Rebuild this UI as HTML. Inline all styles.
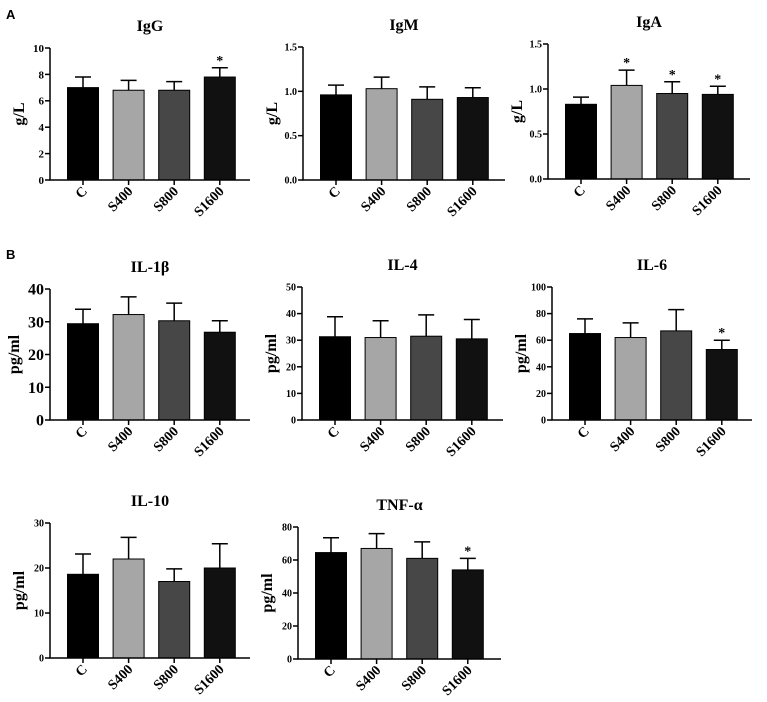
<!DOCTYPE html>
<html><head><meta charset="utf-8"><style>
body{margin:0;background:#fff}
svg{display:block}
text{font-family:"Liberation Serif",serif;font-weight:bold;fill:#000}
</style></head><body>
<svg id="c" width="767" height="702">
<text x="6" y="19" style="font-family:'Liberation Sans',sans-serif;font-size:13px">A</text>
<text x="6" y="259" style="font-family:'Liberation Sans',sans-serif;font-size:13px">B</text>
</svg>
<script>
const categories=["C","S400","S800","S1600"];
const colors=["#000","#a6a6a6","#474747","#111"];
const igG=[7.0,6.8,6.8,7.8], igGErr=[0.8,0.75,0.65,0.7], igGSig=[0,0,0,1];
const igM=[0.96,1.03,0.91,0.93], igMErr=[0.11,0.13,0.14,0.11], igMSig=[0,0,0,0];
const igA=[0.83,1.04,0.95,0.94], igAErr=[0.08,0.17,0.13,0.09], igASig=[0,1,1,1];
const il1b=[29.4,32.2,30.3,26.8], il1bErr=[4.4,5.4,5.4,3.5], il1bSig=[0,0,0,0];
const il4=[31.3,31,31.5,30.5], il4Err=[7.5,6.3,8,7.3], il4Sig=[0,0,0,0];
const il6=[65,62,67,53], il6Err=[11,11,16,7], il6Sig=[0,0,0,1];
const il10=[18.6,22,17,20], il10Err=[4.5,4.8,2.8,5.4], il10Sig=[0,0,0,0];
const tnf=[64.5,67,61,54], tnfErr=[9,9,10,7], tnfSig=[0,0,0,1];
const igGTicks=["0","2","4","6","8","10"];
const igMTicks=["0.0","0.5","1.0","1.5"];
const igATicks=["0.0","0.5","1.0","1.5"];
const il1bTicks=["0","10","20","30","40"];
const il4Ticks=["0","10","20","30","40","50"];
const il6Ticks=["0","20","40","60","80","100"];
const il10Ticks=["0","10","20","30"];
const tnfTicks=["0","20","40","60","80"];

const svg=document.getElementById('c');const NS="http://www.w3.org/2000/svg";
function mk(t,a,p){const e=document.createElementNS(NS,t);for(const k in a)e.setAttribute(k,a[k]);(p||svg).appendChild(e);return e;}
function panel(name,title,ylab,vals,errs,sig,ticks,ox,yTop,yBot,xEnd,fs){
  const g=mk('g',{});
  
  
  const max=parseFloat(ticks[ticks.length-1]);
  const y=v=>yBot-(v/max)*(yBot-yTop);
  const xc=i=>ox+33+45.6*i;
  const t=mk('text',{x:(ox+xEnd)/2,y:yTop-17,'text-anchor':'middle','font-size':16},g);t.textContent=title;
  
  
  const yl=mk('text',{x:0,y:0,'text-anchor':'middle','font-size':16,transform:`translate(${ox-(fs>11?31:26)},${(yTop+yBot)/2}) rotate(-90)`},g);yl.textContent=ylab;
  
  
  vals.forEach((v,i)=>{
    const b=mk('rect',{x:xc(i)-15.5,y:y(v),width:31,height:yBot-y(v),fill:colors[i],stroke:'#000','stroke-width':1},g);
    
    
    const te=y(v+errs[i]);
    const e=mk('path',{d:`M${xc(i)},${y(v)}V${te}M${xc(i)-8},${te}H${xc(i)+8}`,stroke:'#000','stroke-width':1.5,fill:'none'},g);
    
    
    if(sig[i]){const s=mk('text',{x:xc(i),y:te-3,'text-anchor':'middle','font-size':14},g);s.textContent='*';
      
      }
    mk('line',{x1:xc(i),x2:xc(i),y1:yBot,y2:yBot+5,stroke:'#000','stroke-width':1.5},g);
    const cl=mk('text',{x:0,y:0,'text-anchor':'end','font-size':14,transform:`translate(${xc(i)+5},${yBot+12}) rotate(-45)`},g);cl.textContent=categories[i];
    
    
  });
  ticks.forEach(tk=>{const yy=y(parseFloat(tk));
    mk('line',{x1:ox-5,x2:ox,y1:yy,y2:yy,stroke:'#000','stroke-width':1.5},g);
    const tl=mk('text',{x:ox-6,y:yy+fs*0.35,'text-anchor':'end','font-size':fs},g);tl.textContent=tk;
    
    });
  const ax=mk('path',{d:`M${ox},${yTop}V${yBot}H${xEnd}`,stroke:'#000','stroke-width':1.5,fill:'none'},g);
  
  
}
panel('igg','IgG','g/L',igG,igGErr,igGSig,igGTicks,50,48,180,250,11);
panel('igm','IgM','g/L',igM,igMErr,igMSig,igMTicks,303,47,180,505,10);
panel('iga','IgA','g/L',igA,igAErr,igASig,igATicks,548,44,179,750,10);
panel('il1b','IL-1β','pg/ml',il1b,il1bErr,il1bSig,il1bTicks,50,289,420,250,16);
panel('il4','IL-4','pg/ml',il4,il4Err,il4Sig,il4Ticks,302,287,420,503,10);
panel('il6','IL-6','pg/ml',il6,il6Err,il6Sig,il6Ticks,552,287,420,752,10);
panel('il10','IL-10','pg/ml',il10,il10Err,il10Sig,il10Ticks,50,523,658,250,10);
panel('tnf','TNF-α','pg/ml',tnf,tnfErr,tnfSig,tnfTicks,298,527,659,501,10);
</script>
</body></html>
